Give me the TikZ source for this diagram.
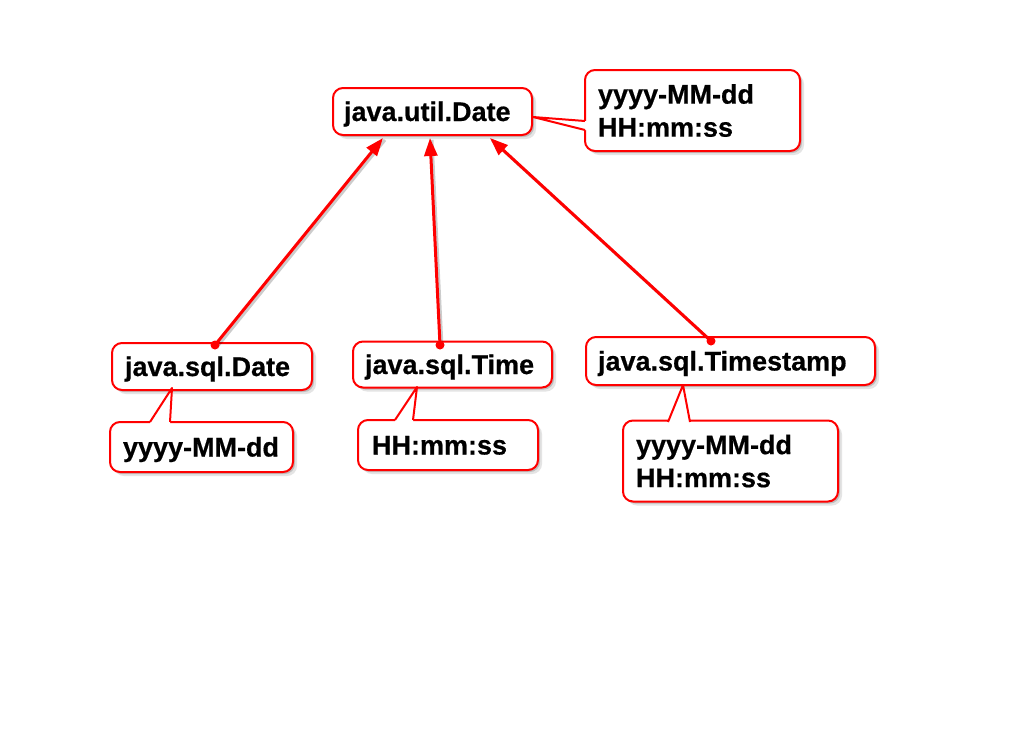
\documentclass[tikz,border=0pt]{standalone}
\usepackage{fontspec}
\setmainfont{Liberation Sans}[BoldFeatures={FakeBold=0.6}]
\usetikzlibrary{arrows.meta,shadows,calc}
\definecolor{boxred}{RGB}{255,0,0}
\begin{document}
\begin{tikzpicture}[x=1pt,y=-1pt,
  box/.style={draw=boxred, line width=2pt, rounded corners=10pt, fill=white,
    inner ysep=0pt, align=left, font=\fontsize{27}{33}\selectfont\bfseries,
    drop shadow={shadow xshift=2pt, shadow yshift=-2pt, opacity=0.25, fill=black!70},
    drop shadow={shadow xshift=4pt, shadow yshift=-4pt, opacity=0.15, fill=black!70}},
  oneline/.style={box, text height=19pt, text depth=0pt},
  twoline/.style={box},
  tailline/.style={draw=boxred, line width=2pt, line join=round},
  tailfill/.style={fill=white},
  arrowline/.style={draw=boxred, line width=3pt, -{Triangle[length=18pt,width=13pt]}},
  arrowshadow/.style={draw=black, opacity=0.2, line width=3pt},
  dotstyle/.style={fill=boxred}
]
\useasboundingbox (0,0) rectangle (1024,742);
\fill[white] (0,0) rectangle (1024,742);

% nodes
\node[oneline, inner xsep=11pt, text width=177pt, minimum height=47pt] (util) at (432.5,111.5) {\mbox{java.util.Date}};
\node[twoline, inner xsep=13pt, text width=189pt, minimum height=81pt] (topnote) at (692.5,110.5) {\mbox{yyyy-MM-dd}\\\mbox{HH:mm:ss}};
\node[oneline, inner xsep=13pt, text width=174pt, minimum height=47pt] (sqldate) at (212,366.5) {\mbox{java.sql.Date}};
\node[oneline, inner xsep=13pt, text width=157pt, minimum height=50pt] (note1) at (201.5,447) {\mbox{yyyy-MM-dd}};
\node[oneline, inner xsep=12pt, text width=175pt, minimum height=46pt] (sqltime) at (452.5,364.5) {\mbox{java.sql.Time}};
\node[oneline, inner xsep=14pt, text width=152pt, minimum height=50pt] (note2) at (448,445) {\mbox{HH:mm:ss}};
\node[oneline, inner xsep=12pt, text width=265pt, minimum height=48pt] (ts) at (730.5,361) {\mbox{java.sql.Timestamp}};
\node[twoline, inner xsep=13pt, text width=189pt, minimum height=81pt] (note3) at (730.5,461) {\mbox{yyyy-MM-dd}\\\mbox{HH:mm:ss}};

% callout tails
\coordinate (t0) at (533,117);
\coordinate (t0a) at (585,121);
\coordinate (t0b) at (585,130);
\fill[tailfill] (t0) -- (t0a) -- ($(t0a)+(4,0)$) -- ($(t0b)+(4,0)$) -- (t0b) -- cycle;
\draw[tailline] (t0a) -- (t0) -- (t0b);

\coordinate (t1) at (172,388);
\coordinate (t1a) at (150,422);
\coordinate (t1b) at (170,422);
\fill[tailfill] (t1) -- (t1a) -- ($(t1a)+(0,4)$) -- ($(t1b)+(0,4)$) -- (t1b) -- cycle;
\draw[tailline] (t1a) -- (t1) -- (t1b);

\coordinate (t2) at (417,387);
\coordinate (t2a) at (395,420);
\coordinate (t2b) at (413,420);
\fill[tailfill] (t2) -- (t2a) -- ($(t2a)+(0,4)$) -- ($(t2b)+(0,4)$) -- (t2b) -- cycle;
\draw[tailline] (t2a) -- (t2) -- (t2b);

\coordinate (t3) at (683,385);
\coordinate (t3a) at (668,422);
\coordinate (t3b) at (690,422);
\fill[tailfill] (t3) -- (t3a) -- ($(t3a)+(0,4)$) -- ($(t3b)+(0,4)$) -- (t3b) -- cycle;
\draw[tailline] (t3a) -- (t3) -- (t3b);

% arrows
\coordinate (d1) at (215,345);
\coordinate (a1) at (383,138);
\coordinate (d2) at (440,345);
\coordinate (a2) at (430,138);
\coordinate (d3) at (711,341);
\coordinate (a3) at (490,138);

\draw[arrowshadow] ($(d1)+(2,2)$) -- ($(a1)+(2,2)$);
\draw[arrowshadow] ($(d2)+(2,2)$) -- ($(a2)+(2,2)$);
\draw[arrowshadow] ($(d3)+(2,2)$) -- ($(a3)+(2,2)$);
\draw[arrowline] (d1) -- (a1);
\draw[arrowline] (d2) -- (a2);
\draw[arrowline] (d3) -- (a3);
\fill[dotstyle] (d1) circle (4.5);
\fill[dotstyle] (d2) circle (4.5);
\fill[dotstyle] (d3) circle (4.5);
\end{tikzpicture}
\end{document}
